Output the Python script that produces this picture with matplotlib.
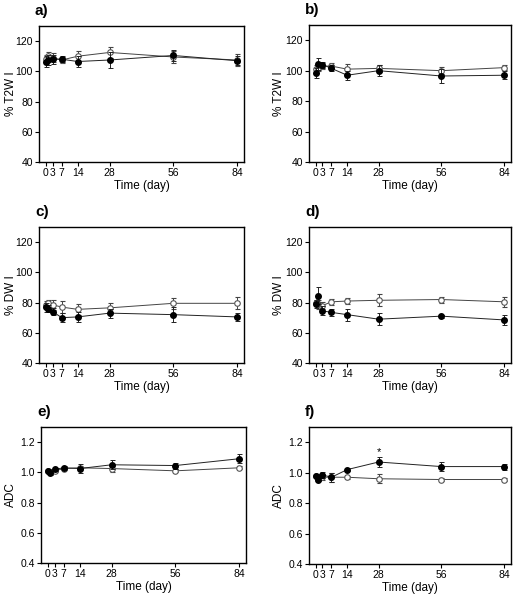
import numpy as np
import matplotlib.pyplot as plt

plt.rcParams['font.family'] = ['Liberation Sans', 'DejaVu Sans']

days = [0, 1, 3, 7, 14, 28, 56, 84]
xticks = [0, 3, 7, 14, 28, 56, 84]

# a) %T2WI
t2_a_filled = [106.5, 107.5, 108, 108, 106.5, 107.5, 110.5, 107]
t2_a_filled_err = [3.5, 3, 3, 2, 3.5, 5, 3.5, 3]
t2_a_open = [108, 110, 109, 107.5, 110, 112.5, 109.5, 107.5]
t2_a_open_err = [3, 3, 3, 2, 3.5, 3.5, 4, 4]

# b) %T2WI
t2_b_filled = [98.5, 104.5, 104, 101.5, 97, 100, 96.5, 97]
t2_b_filled_err = [3.5, 4, 2, 2, 3, 3.5, 4.5, 2.5]
t2_b_open = [101, 102, 103, 103, 101, 101.5, 100, 102]
t2_b_open_err = [2.5, 2.5, 2, 2, 3.5, 2.5, 2.5, 1.5]

# c) %DWI
dwi_c_filled = [77, 76, 74, 70, 70.5, 73, 72, 70.5]
dwi_c_filled_err = [3, 2.5, 2.5, 3, 3.5, 3, 5, 2.5]
dwi_c_open = [78.5, 79.5, 78.5, 77, 75.5, 76.5, 79.5, 79.5]
dwi_c_open_err = [2.5, 2.5, 3.5, 4, 3.5, 3, 3.5, 4]

# d) %DWI
dwi_d_filled = [79, 84.5, 74.5, 73.5, 72, 69, 71, 68.5]
dwi_d_filled_err = [2.5, 5.5, 3, 2.5, 4, 4, 1, 3.5]
dwi_d_open = [80, 79, 78, 80.5, 81, 81.5, 82, 80.5]
dwi_d_open_err = [2, 3, 2.5, 2, 2, 4, 2, 3.5]

# e) ADC
adc_e_filled = [1.01, 0.995, 1.02, 1.03, 1.025, 1.05, 1.045, 1.09]
adc_e_filled_err = [0.01, 0.01, 0.01, 0.01, 0.03, 0.03, 0.02, 0.03]
adc_e_open = [1.01, 1.00, 1.01, 1.025, 1.03, 1.025, 1.01, 1.03]
adc_e_open_err = [0.01, 0.01, 0.01, 0.01, 0.01, 0.02, 0.01, 0.01]

# f) ADC
adc_f_filled = [0.98, 0.955, 0.985, 0.97, 1.02, 1.07, 1.04, 1.04]
adc_f_filled_err = [0.01, 0.01, 0.02, 0.03, 0.01, 0.03, 0.03, 0.02]
adc_f_open = [0.975, 0.96, 0.97, 0.97, 0.97, 0.96, 0.955, 0.955]
adc_f_open_err = [0.01, 0.01, 0.02, 0.03, 0.01, 0.03, 0.01, 0.01]

panels = [
    ("a)", "% T2W I", (40, 130), [40, 60, 80, 100, 120], "{:.0f}",
     t2_a_filled, t2_a_filled_err, t2_a_open, t2_a_open_err),
    ("b)", "% T2W I", (40, 130), [40, 60, 80, 100, 120], "{:.0f}",
     t2_b_filled, t2_b_filled_err, t2_b_open, t2_b_open_err),
    ("c)", "% DW I", (40, 130), [40, 60, 80, 100, 120], "{:.0f}",
     dwi_c_filled, dwi_c_filled_err, dwi_c_open, dwi_c_open_err),
    ("d)", "% DW I", (40, 130), [40, 60, 80, 100, 120], "{:.0f}",
     dwi_d_filled, dwi_d_filled_err, dwi_d_open, dwi_d_open_err),
    ("e)", "ADC", (0.4, 1.3), [0.4, 0.6, 0.8, 1.0, 1.2], "{:.1f}",
     adc_e_filled, adc_e_filled_err, adc_e_open, adc_e_open_err),
    ("f)", "ADC", (0.4, 1.3), [0.4, 0.6, 0.8, 1.0, 1.2], "{:.1f}",
     adc_f_filled, adc_f_filled_err, adc_f_open, adc_f_open_err),
]

# axes boxes in pixels: left, top, right, bottom
boxes = [(39, 26, 244, 162), (309, 25, 511, 162),
         (39, 227, 244, 363), (309, 227, 511, 363),
         (41, 427, 246, 563), (309, 427, 511, 564)]

W, H = 521, 600
fig = plt.figure(figsize=(W / 100, H / 100), dpi=100)

for (lab, ylab, ylim, yt, fmt, fv, fe, ov, oe), (l, t, r, b) in zip(panels, boxes):
    ax = fig.add_axes([l / W, 1 - b / H, (r - l) / W, (b - t) / H])
    ax.errorbar(days, ov, yerr=oe, fmt='-o', color='#444444', lw=0.7,
                ms=4, mfc='white', mec='#555555', mew=0.8,
                elinewidth=0.7, capsize=1.8, capthick=0.7, zorder=2)
    ax.errorbar(days, fv, yerr=fe, fmt='-o', color='#222222', lw=0.7,
                ms=4, mfc='black', mec='black',
                elinewidth=0.7, capsize=1.8, capthick=0.7, zorder=3)
    ax.set_xlim(-3, 87)
    ax.set_ylim(*ylim)
    ax.set_xticks(xticks)
    ax.set_yticks(yt)
    ax.set_yticklabels([fmt.format(v) for v in yt])
    ax.tick_params(direction='out', length=3, width=0.8, labelsize=7.5,
                   pad=1.5, top=False, right=False)
    for s in ax.spines.values():
        s.set_linewidth(1.0)
    ax.set_xlabel("Time (day)", fontsize=8.5, labelpad=1)
    ax.set_ylabel(ylab, fontsize=8.5)
    lx = 17 if l < 100 else 285
    ax.yaxis.set_label_coords((lx - l) / (r - l), 0.5)
    ax.text(-0.02, 1.06, lab, transform=ax.transAxes, fontsize=11,
            fontweight='bold', ha='left', va='bottom')
    if lab == "f)":
        ax.text(28, fv[5] + fe[5] + 0.005, "*", ha='center', va='bottom',
                fontsize=8)

fig.savefig("out.png", dpi=100)
